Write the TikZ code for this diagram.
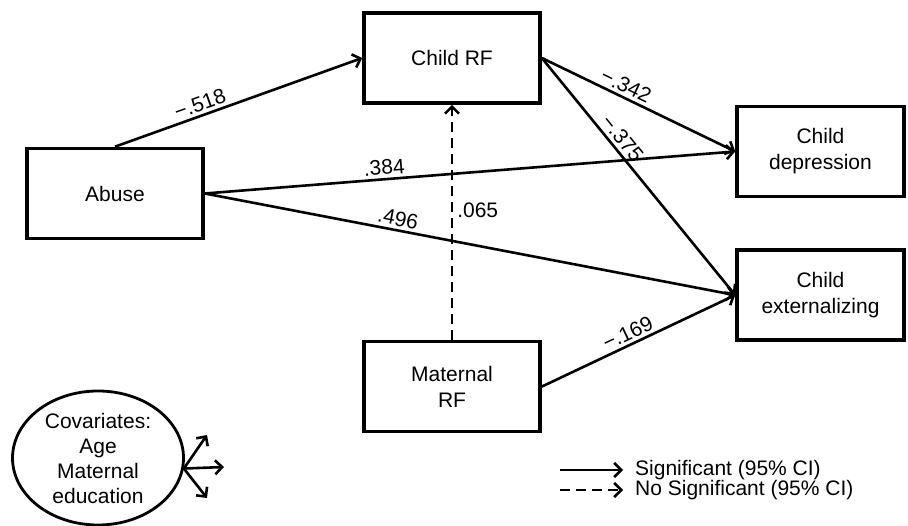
\documentclass[tikz,border=0pt]{standalone}
\usepackage{fontspec}
\setmainfont{Liberation Sans}
\usepackage{tikz}
\usetikzlibrary{shapes.geometric, arrows.meta, positioning}

\begin{document}
\begin{tikzpicture}[
    x=1pt, y=-1pt,
    box/.style={rectangle, draw=black, line width=3.6pt, minimum width=176pt, minimum height=90pt, align=center, font=\fontsize{21}{26}\selectfont},
    covar/.style={ellipse, draw=black, line width=2.8pt, minimum width=171pt, minimum height=134pt, inner sep=0pt, align=center, font=\fontsize{21}{25}\selectfont},
    arrow/.style={-{Straight Barb[length=7pt, width=14pt]}, line width=2.6pt, draw=black},
    nosig/.style={arrow, dash pattern=on 10pt off 6pt},
    coef/.style={font=\fontsize{21}{24}\selectfont, inner sep=3pt},
    legend/.style={font=\fontsize{21}{24}\selectfont, inner sep=0pt, anchor=west}
]
    \useasboundingbox (0,0) rectangle (908,526);

    % Predictor and mediators
    \node (abuse) [box] at (115,193.5) {Abuse};
    \node (childrf) [box] at (452,58) {Child RF};
    \node (maternal) [box, below=235pt of childrf] {Maternal\\RF};

    % Outcomes
    \node (depression) [box, minimum width=167pt] at (820.5,151.5) {Child\\depression};
    \node (external) [box, minimum width=167pt, below=50pt of depression] {Child\\externalizing};

    % Covariates
    \node (covariates) [covar] at (98,458) {Covariates:\\Age\\Maternal\\education};
    \coordinate (covup) at (207,435);
    \coordinate (covmid) at (224,467);
    \coordinate (covdown) at (207,498);

    % Legend
    \node (sigtext) [legend] at (635,470) {Significant (95\% CI)};
    \node (nosigtext) [legend] at (635,490) {No Significant (95\% CI)};
    \coordinate (sigstart) at (560,470);
    \coordinate (nosigstart) at (560,490);

    % Paths
    \draw [arrow] (abuse.north) -- node [coef, pos=0.36, above, sloped] {−.518} (childrf.west);
    \draw [arrow] (childrf.east) -- node [coef, pos=0.41, above, sloped] {−.342} (depression.west);
    \draw [arrow] (childrf.east) -- node [coef, pos=0.37, above, sloped] {−.375} (external.west);
    \draw [arrow] (abuse.east) -- node [coef, pos=0.34, above, sloped] {.384} (depression.west);
    \draw [arrow] (abuse.east) -- node [coef, pos=0.36, above, sloped] {.496} (external.west);
    \draw [arrow] (maternal.east) -- node [coef, pos=0.47, above, sloped] {−.169} (external.west);
    \draw [nosig] (maternal.north) -- node [coef, pos=0.55, right=1pt] {.065} (childrf.south);

    % Covariate arrows
    \draw [arrow] (covariates.-7) -- (covup);
    \draw [arrow] (covariates.-7) -- (covmid);
    \draw [arrow] (covariates.-7) -- (covdown);

    % Legend arrows
    \draw [arrow, shorten >=12pt] (sigstart) -- (sigtext.west);
    \draw [nosig, shorten >=12pt] (nosigstart) -- (nosigtext.west);

\end{tikzpicture}
\end{document}
